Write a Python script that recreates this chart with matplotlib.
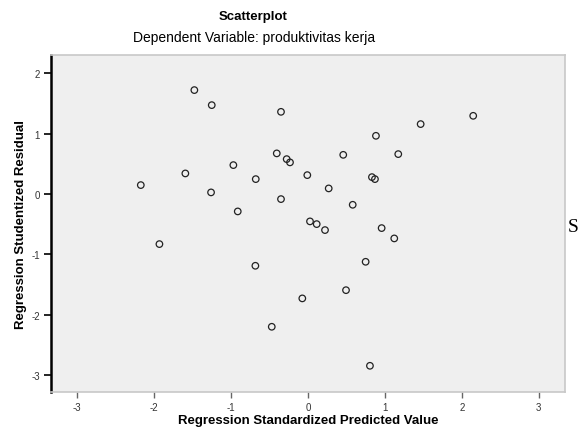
import matplotlib
matplotlib.use("Agg")
import matplotlib.pyplot as plt

# Data
pred = [-1.477, -1.251, -0.351, -2.173, -1.594, -0.970, -0.406, -0.277, -0.234,
        -0.009, -0.679, -1.260, 0.269, -0.351, -0.913, 0.458, 0.883, 1.173,
        1.464, 2.147, 0.870, 0.831, 0.581, 0.026, 0.113, 0.221, 0.957, 1.121,
        -1.931, -0.684, 0.749, 0.494, -0.074, -0.471, 0.805]
resid = [1.719, 1.470, 1.359, 0.146, 0.339, 0.477, 0.671, 0.576, 0.522,
         0.311, 0.245, 0.025, 0.091, -0.086, -0.290, 0.647, 0.962, 0.659,
         1.156, 1.293, 0.245, 0.278, -0.180, -0.455, -0.500, -0.599, -0.566, -0.737,
         -0.831, -1.190, -1.124, -1.594, -1.730, -2.200, -2.846]
x_ticks = [-3, -2, -1, 0, 1, 2, 3]
y_ticks = [-3, -2, -1, 0, 1, 2]

W, H = 587, 435
fig = plt.figure(figsize=(W / 100, H / 100), dpi=100)
fig.patch.set_facecolor("white")
ax = fig.add_axes([51 / W, (H - 393) / H, (565 - 51) / W, (393 - 56) / H])
ax.set_facecolor("#efefef")

ax.scatter(pred, resid, s=22, facecolors="none", edgecolors="#222222", linewidths=0.9)

ax.set_xlim(-3.34, 3.34)
ax.set_ylim(-3.28, 2.30)
ax.set_xticks(x_ticks)
ax.set_yticks(y_ticks)
ax.set_xticklabels([str(v) for v in x_ticks], fontsize=7, family="Liberation Sans", color="#333333")
ax.set_yticklabels([str(v) for v in y_ticks], fontsize=7, family="Liberation Sans", color="#333333")
ax.tick_params(axis="y", length=5, width=1.2, color="black", pad=3)
ax.tick_params(axis="x", length=4, width=1.0, color="#666666", pad=3)

for side in ["top", "right", "bottom"]:
    ax.spines[side].set_color("#c8c8c8")
    ax.spines[side].set_linewidth(1.2)
ax.spines["left"].set_color("black")
ax.spines["left"].set_linewidth(1.8)

ax.set_xlabel("Regression Standardized Predicted Value", fontsize=9.5, fontweight="bold",
              family="Liberation Sans", va="center")
ax.xaxis.set_label_coords(0.5, (393 - 421) / 337)
ax.set_ylabel("Regression Studentized Residual", fontsize=9.5, fontweight="bold",
              family="Liberation Sans", va="center")
ax.yaxis.set_label_coords((21 - 51) / 514, 0.50)

fig.text(253 / W, 1 - 17 / H, "Scatterplot", ha="center", va="center", fontsize=9.5,
         fontweight="bold", family="Liberation Sans")
fig.text(254 / W, 1 - 38 / H, "Dependent Variable: produktivitas kerja", ha="center",
         va="center", fontsize=10, family="Liberation Sans")
fig.text(573 / W, 1 - 228 / H, "S", ha="center", va="center", fontsize=14,
         family="Liberation Serif")

fig.savefig("out.png", dpi=100)
